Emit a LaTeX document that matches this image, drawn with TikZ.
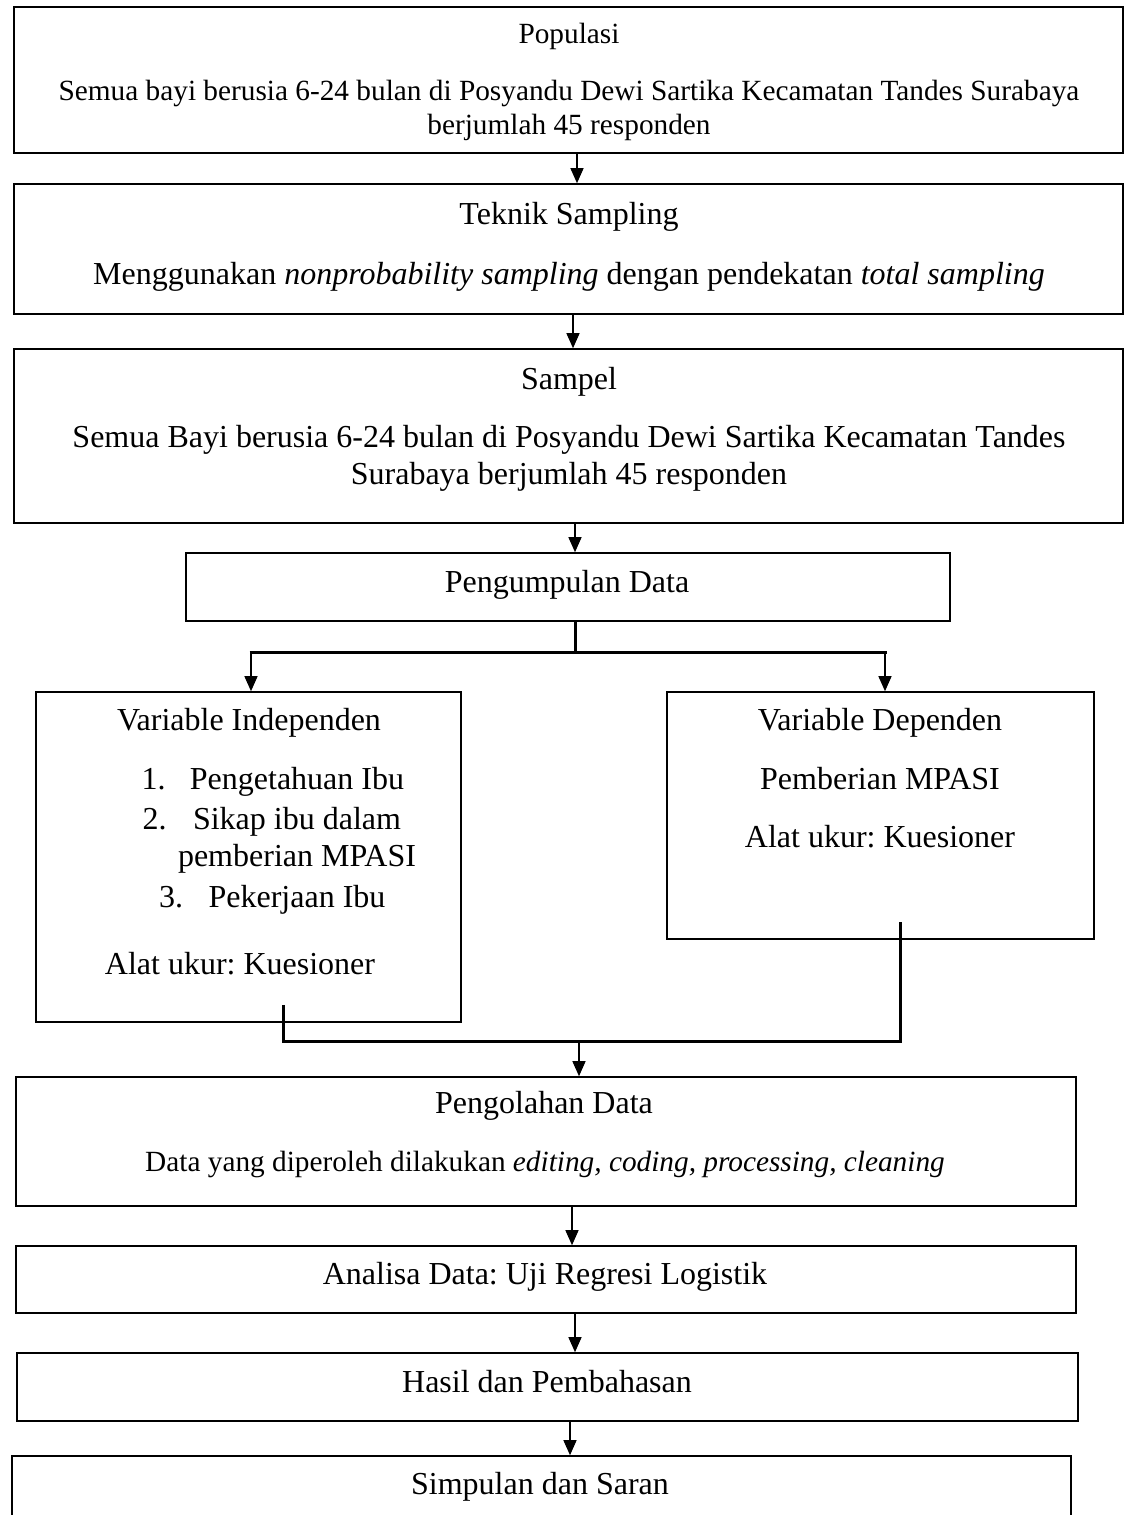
\documentclass[tikz,border=0pt]{standalone}
\usepackage{fontspec}
\setmainfont{Liberation Serif}
\usetikzlibrary{arrows.meta,positioning,calc}
\frenchspacing
\newcommand\fbig{\fontsize{32}{36.8}\selectfont}
\newcommand\fsml{\fontsize{29.3}{33.7}\selectfont}
\tikzset{
  box/.style={draw, line width=1.6pt, inner sep=0pt},
  lbl/.style={inner sep=0pt, font=\fbig, text height=22pt, text depth=7pt},
  slbl/.style={inner sep=0pt, font=\fsml, text height=20pt, text depth=6.5pt},
  flow/.style={draw, line width=1.3pt, -{Triangle[length=15pt, width=13pt]}},
  bus/.style={draw, line width=3pt}
}
\begin{document}
\begin{tikzpicture}[x=1pt, y=-1pt]
    \useasboundingbox (0,0) rectangle (1125,1515);
    % kotak-kotak alur
    \foreach \nm/\cx/\cy/\w/\h in {pop/568.5/80/1109/146, tek/568.5/249/1109/130,
        sam/568.5/436/1109/174, kum/568/587/764/68, ind/248.5/857/425/330,
        dep/880.5/815.5/427/247, olah/546/1141.5/1060/129, ana/546/1279.5/1060/67,
        has/547.5/1387/1061/68, sim/541.5/1498/1059/84}{
      \node[box, minimum width=\w pt, minimum height=\h pt] (\nm) at (\cx,\cy) {};
    }
    % teks
    \foreach \nm/\x/\y/\sty/\t in {popT/569/37/slbl/{Populasi},
        popA/569/94/slbl/{Semua bayi berusia 6-24 bulan di Posyandu Dewi Sartika Kecamatan Tandes Surabaya},
        popB/569/128/slbl/{berjumlah 45 responden},
        tekT/569/217/lbl/{Teknik Sampling},
        tekA/569/277/lbl/{Menggunakan \textit{nonprobability sampling} dengan pendekatan \textit{total sampling}},
        samT/569/382/lbl/{Sampel},
        samA/569/440/lbl/{Semua Bayi berusia 6-24 bulan di Posyandu Dewi Sartika Kecamatan Tandes},
        samB/569/477/lbl/{Surabaya berjumlah 45 responden},
        kumT/567/585/lbl/{Pengumpulan Data},
        indT/249/723/lbl/{Variable Independen},
        indA/240/967/lbl/{Alat ukur: Kuesioner},
        depT/880/723/lbl/{Variable Dependen},
        depA/880/782/lbl/{Pemberian MPASI},
        depB/880/840/lbl/{Alat ukur: Kuesioner},
        olahT/544/1106/lbl/{Pengolahan Data},
        olahA/545/1165/slbl/{Data yang diperoleh dilakukan \textit{editing, coding, processing, cleaning}},
        anaT/545/1277/lbl/{Analisa Data: Uji Regresi Logistik},
        hasT/547/1385/lbl/{Hasil dan Pembahasan},
        simT/540/1487/lbl/{Simpulan dan Saran}}{
      \node[\sty] (\nm) at (\x,\y) {\t};
    }
    % daftar variabel independen
    \node[lbl] (ind1) at (297,782) {Pengetahuan Ibu};
    \node[lbl] (ind2) at (297,822) {Sikap ibu dalam};
    \node[lbl] (ind2b) at (297,859) {pemberian MPASI};
    \node[lbl] (ind3) at (297,900) {Pekerjaan Ibu};
    \node[lbl, left=24pt of ind1] (n1) {1.};
    \node[lbl, left=26pt of ind2] (n2) {2.};
    \node[lbl, left=25pt of ind3] (n3) {3.};
    % panah utama
    \draw[flow] ($(pop.south)+(8.5,0)$) -- ($(tek.north)+(8.5,0)$);
    \draw[flow] ($(tek.south)+(4.5,0)$) -- ($(sam.north)+(4.5,0)$);
    \draw[flow] ($(sam.south)+(6.5,0)$) -- ($(kum.north)+(7,0)$);
    % percabangan
    \coordinate (fk) at (575,652);
    \coordinate (fl) at (251,652);
    \coordinate (fr) at (885,652);
    \draw[bus] (kum.south -| fk) -- (fk);
    \draw[bus] ([xshift=-1.5pt]fl) -- ([xshift=1.5pt]fr);
    \draw[flow] (fl) -- (fl |- ind.north);
    \draw[flow] (fr) -- (fr |- dep.north);
    % penggabungan
    \coordinate (ml) at (283,1041);
    \coordinate (mr) at (900,1041);
    \coordinate (mc) at (579,1042);
    \draw[bus] ($(ml |- ind.south)+(0,-18)$) -- (ml) -- (mr) -- ($(mr |- dep.south)+(0,-18)$);
    \draw[flow] (mc) -- (mc |- olah.north);
    \draw[flow] ($(olah.south)+(26,0)$) -- ($(ana.north)+(26,0)$);
    \draw[flow] ($(ana.south)+(29,0)$) -- ($(has.north)+(27.5,0)$);
    \draw[flow] ($(has.south)+(22.5,0)$) -- ($(sim.north)+(28.5,0)$);
\end{tikzpicture}
\end{document}
